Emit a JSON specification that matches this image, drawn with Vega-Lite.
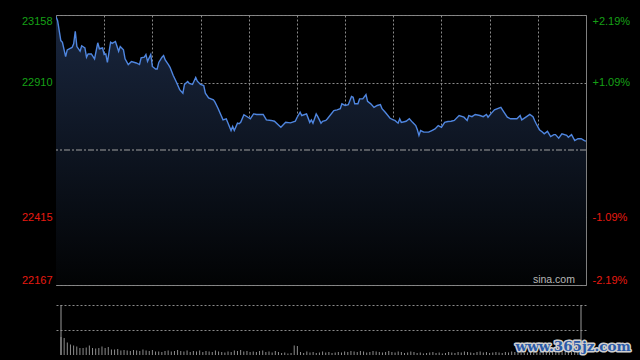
{
  "$schema": "https://vega.github.io/schema/vega-lite/v6.json",
  "background": "#000000",
  "padding": {"left": 20, "top": 14, "right": 9, "bottom": 6},
  "bounds": "flush",
  "spacing": 20,
  "config": {
    "view": {"stroke": "#7f7f7f", "strokeWidth": 1},
    "axis": {"labelFont": "Liberation Sans", "labelFontSize": 11, "tickSize": 0, "ticks": false, "title": null, "gridColor": "#8a8a8a", "gridDash": [2, 2], "gridWidth": 1, "domain": false, "zindex": 1}
  },
  "datasets": {
    "price": [
      {"m":0,"p":23152},{"m":1,"p":23137},{"m":3,"p":23064},{"m":4,"p":23058},{"m":6,"p":23005},{"m":7,"p":23030},{"m":10,"p":23039},{"m":11,"p":23052},{"m":12,"p":23098},{"m":13,"p":23042},{"m":15,"p":23025},{"m":16,"p":23045},{"m":18,"p":23037},{"m":19,"p":23003},{"m":20,"p":23015},{"m":22,"p":23015},{"m":24,"p":22997},{"m":26,"p":23056},{"m":27,"p":23034},{"m":29,"p":23037},{"m":30,"p":23013},{"m":31,"p":23015},{"m":32,"p":22984},{"m":34,"p":23058},{"m":35,"p":23054},{"m":37,"p":23061},{"m":39,"p":23025},{"m":40,"p":23042},{"m":42,"p":23030},{"m":43,"p":22997},{"m":45,"p":22976},{"m":47,"p":22987},{"m":50,"p":22982},{"m":52,"p":22976},{"m":53,"p":23001},{"m":55,"p":23003},{"m":56,"p":23013},{"m":57,"p":22988},{"m":59,"p":23013},{"m":60,"p":22969},{"m":62,"p":22960},{"m":63,"p":22960},{"m":64,"p":22984},{"m":66,"p":23003},{"m":67,"p":23009},{"m":68,"p":22993},{"m":70,"p":22976},{"m":71,"p":22966},{"m":73,"p":22936},{"m":75,"p":22911},{"m":77,"p":22884},{"m":79,"p":22871},{"m":80,"p":22903},{"m":82,"p":22914},{"m":83,"p":22907},{"m":85,"p":22903},{"m":87,"p":22929},{"m":88,"p":22915},{"m":90,"p":22903},{"m":92,"p":22899},{"m":93,"p":22871},{"m":95,"p":22854},{"m":98,"p":22847},{"m":99,"p":22838},{"m":101,"p":22814},{"m":104,"p":22773},{"m":106,"p":22777},{"m":109,"p":22734},{"m":110,"p":22749},{"m":111,"p":22734},{"m":113,"p":22761},{"m":114,"p":22759},{"m":115,"p":22764},{"m":117,"p":22792},{"m":120,"p":22781},{"m":121,"p":22777},{"m":123,"p":22795},{"m":125,"p":22793},{"m":129,"p":22793},{"m":131,"p":22773},{"m":134,"p":22771},{"m":136,"p":22768},{"m":140,"p":22746},{"m":143,"p":22764},{"m":146,"p":22762},{"m":149,"p":22768},{"m":150,"p":22781},{"m":152,"p":22801},{"m":153,"p":22789},{"m":156,"p":22795},{"m":158,"p":22764},{"m":159,"p":22773},{"m":160,"p":22761},{"m":162,"p":22795},{"m":163,"p":22785},{"m":165,"p":22761},{"m":166,"p":22768},{"m":168,"p":22771},{"m":169,"p":22777},{"m":173,"p":22807},{"m":175,"p":22810},{"m":177,"p":22814},{"m":178,"p":22832},{"m":180,"p":22826},{"m":182,"p":22829},{"m":184,"p":22859},{"m":185,"p":22856},{"m":186,"p":22832},{"m":188,"p":22832},{"m":189,"p":22850},{"m":191,"p":22850},{"m":193,"p":22866},{"m":194,"p":22841},{"m":196,"p":22832},{"m":198,"p":22819},{"m":200,"p":22826},{"m":202,"p":22829},{"m":203,"p":22814},{"m":205,"p":22801},{"m":208,"p":22779},{"m":210,"p":22773},{"m":211,"p":22771},{"m":213,"p":22761},{"m":214,"p":22777},{"m":215,"p":22764},{"m":218,"p":22768},{"m":220,"p":22777},{"m":222,"p":22764},{"m":224,"p":22752},{"m":225,"p":22737},{"m":226,"p":22716},{"m":227,"p":22734},{"m":229,"p":22728},{"m":232,"p":22728},{"m":234,"p":22734},{"m":236,"p":22740},{"m":238,"p":22752},{"m":240,"p":22746},{"m":242,"p":22764},{"m":244,"p":22767},{"m":246,"p":22768},{"m":248,"p":22771},{"m":251,"p":22789},{"m":254,"p":22783},{"m":256,"p":22771},{"m":257,"p":22789},{"m":259,"p":22785},{"m":261,"p":22793},{"m":264,"p":22789},{"m":266,"p":22785},{"m":268,"p":22793},{"m":269,"p":22783},{"m":271,"p":22797},{"m":273,"p":22810},{"m":277,"p":22819},{"m":279,"p":22801},{"m":281,"p":22783},{"m":283,"p":22777},{"m":287,"p":22777},{"m":289,"p":22789},{"m":290,"p":22773},{"m":293,"p":22785},{"m":295,"p":22793},{"m":297,"p":22785},{"m":298,"p":22771},{"m":299,"p":22759},{"m":301,"p":22737},{"m":303,"p":22728},{"m":304,"p":22722},{"m":306,"p":22731},{"m":308,"p":22712},{"m":310,"p":22719},{"m":311,"p":22719},{"m":313,"p":22706},{"m":315,"p":22722},{"m":318,"p":22716},{"m":319,"p":22709},{"m":321,"p":22719},{"m":323,"p":22697},{"m":325,"p":22704},{"m":327,"p":22704},{"m":329,"p":22697},{"m":330,"p":22695}
    ],
    "vol": [
      {"m":0,"v":36},{"m":2,"v":34},{"m":4,"v":25},{"m":6,"v":21},{"m":8,"v":19},{"m":10,"v":17},{"m":12,"v":14},{"m":14,"v":14},{"m":16,"v":15},{"m":18,"v":19},{"m":20,"v":14},{"m":22,"v":13},{"m":24,"v":14},{"m":26,"v":17},{"m":28,"v":14},{"m":30,"v":16},{"m":32,"v":11},{"m":34,"v":11},{"m":36,"v":12},{"m":38,"v":9},{"m":40,"v":10},{"m":42,"v":9},{"m":44,"v":8},{"m":46,"v":10},{"m":48,"v":9},{"m":50,"v":8},{"m":52,"v":11},{"m":54,"v":9},{"m":56,"v":8},{"m":58,"v":10},{"m":60,"v":7},{"m":62,"v":7},{"m":64,"v":6},{"m":66,"v":8},{"m":68,"v":9},{"m":70,"v":7},{"m":72,"v":8},{"m":74,"v":10},{"m":76,"v":8},{"m":78,"v":7},{"m":80,"v":9},{"m":82,"v":6},{"m":84,"v":8},{"m":86,"v":7},{"m":88,"v":9},{"m":90,"v":6},{"m":92,"v":8},{"m":94,"v":7},{"m":96,"v":6},{"m":98,"v":9},{"m":100,"v":7},{"m":102,"v":6},{"m":104,"v":5},{"m":106,"v":7},{"m":108,"v":6},{"m":110,"v":9},{"m":112,"v":8},{"m":114,"v":10},{"m":116,"v":7},{"m":118,"v":8},{"m":120,"v":6},{"m":122,"v":7},{"m":124,"v":6},{"m":126,"v":8},{"m":128,"v":9},{"m":130,"v":6},{"m":132,"v":7},{"m":134,"v":5},{"m":136,"v":8},{"m":138,"v":6},{"m":140,"v":4},{"m":142,"v":5},{"m":144,"v":3},{"m":146,"v":4},{"m":148,"v":19},{"m":150,"v":18},{"m":152,"v":6},{"m":154,"v":4},{"m":156,"v":7},{"m":158,"v":5},{"m":160,"v":6},{"m":162,"v":4},{"m":164,"v":5},{"m":166,"v":7},{"m":168,"v":5},{"m":170,"v":6},{"m":172,"v":4},{"m":174,"v":5},{"m":176,"v":6},{"m":178,"v":5},{"m":180,"v":7},{"m":182,"v":6},{"m":184,"v":8},{"m":186,"v":7},{"m":188,"v":6},{"m":190,"v":8},{"m":192,"v":7},{"m":194,"v":5},{"m":196,"v":6},{"m":198,"v":8},{"m":200,"v":7},{"m":202,"v":6},{"m":204,"v":5},{"m":206,"v":6},{"m":208,"v":8},{"m":210,"v":6},{"m":212,"v":5},{"m":214,"v":7},{"m":216,"v":6},{"m":218,"v":4},{"m":220,"v":5},{"m":222,"v":7},{"m":224,"v":6},{"m":226,"v":4},{"m":228,"v":5},{"m":230,"v":3},{"m":232,"v":4},{"m":234,"v":5},{"m":236,"v":6},{"m":238,"v":4},{"m":240,"v":5},{"m":242,"v":3},{"m":244,"v":4},{"m":246,"v":6},{"m":248,"v":5},{"m":250,"v":4},{"m":252,"v":6},{"m":254,"v":5},{"m":256,"v":7},{"m":258,"v":6},{"m":260,"v":5},{"m":262,"v":4},{"m":264,"v":6},{"m":266,"v":7},{"m":268,"v":5},{"m":270,"v":6},{"m":272,"v":4},{"m":274,"v":5},{"m":276,"v":6},{"m":278,"v":5},{"m":280,"v":4},{"m":282,"v":6},{"m":284,"v":5},{"m":286,"v":7},{"m":288,"v":6},{"m":290,"v":5},{"m":292,"v":6},{"m":294,"v":4},{"m":296,"v":5},{"m":298,"v":7},{"m":300,"v":6},{"m":302,"v":5},{"m":304,"v":6},{"m":306,"v":7},{"m":308,"v":5},{"m":310,"v":6},{"m":312,"v":7},{"m":314,"v":6},{"m":316,"v":5},{"m":318,"v":7},{"m":320,"v":6},{"m":322,"v":8},{"m":324,"v":7},{"m":326,"v":9},{"m":328,"v":8},{"m":330,"v":10}
    ]
  },
  "vconcat": [
    {
      "width": 530,
      "height": 270,
      "layer": [
        {
          "data": {"name": "price"},
          "mark": {"type": "area", "clip": true, "color": {"gradient": "linear", "x1": 0, "y1": 0, "x2": 0, "y2": 1, "stops": [{"offset": 0, "color": "#19263e"}, {"offset": 1, "color": "#020304"}]}},
          "encoding": {
            "x": {"field": "m", "type": "quantitative", "scale": {"domain": [0, 330], "nice": false, "zero": false}, "axis": {"values": [30, 60, 90, 120, 150, 180, 210, 240, 270, 300], "labels": false, "grid": true}},
            "y": {"field": "p", "type": "quantitative", "scale": {"domain": [22167, 23158], "nice": false, "zero": false}, "axis": {"orient": "left", "values": [22167, 22415, 22910, 23158], "format": "d", "labelFlush": true, "labelPadding": 4, "grid": true, "labelColor": {"condition": {"test": "datum.value > 22662.5", "value": "#16a016"}, "value": "#e81a10"}}},
            "y2": {"datum": 22167}
          }
        },
        {
          "data": {"values": [{}]},
          "mark": {"type": "rule", "color": "#a0a0a0", "strokeWidth": 1, "strokeDash": [6, 2, 2, 2]},
          "encoding": {"y": {"datum": 22662.5, "type": "quantitative", "axis": null}}
        },
        {
          "data": {"name": "price"},
          "mark": {"type": "line", "color": "#4f86e0", "strokeWidth": 1.4, "clip": true},
          "encoding": {
            "x": {"field": "m", "type": "quantitative"},
            "y": {"field": "p", "type": "quantitative", "axis": {"orient": "right", "values": [22167, 22415, 22910, 23158], "labelFlush": true, "labelPadding": 6, "grid": false, "labelExpr": "(datum.value > 22662.5 ? '+' : '-') + format(abs(datum.value / 22662.5 - 1) * 100, '.2f') + '%'", "labelColor": {"condition": {"test": "datum.value > 22662.5", "value": "#16a016"}, "value": "#e81a10"}}}
          }
        },
        {
          "data": {"values": [{}]},
          "mark": {"type": "text", "text": "sina.com", "font": "Liberation Sans", "fontSize": 10.5, "color": "#b8b8b8", "align": "center", "baseline": "middle"},
          "encoding": {"x": {"datum": 310, "type": "quantitative"}, "y": {"datum": 22184, "type": "quantitative", "axis": null}}
        }
      ],
      "resolve": {"axis": {"y": "independent"}}
    },
    {
      "width": 530,
      "height": 50,
      "view": {"stroke": null},
      "layer": [
        {
          "data": {"name": "vol"},
          "mark": {"type": "bar", "width": 1, "color": "#8c8c8c"},
          "encoding": {
            "x": {"field": "m", "type": "quantitative", "scale": {"domain": [0, 330], "nice": false, "zero": false}, "axis": null},
            "y": {"field": "v", "type": "quantitative", "scale": {"domain": [0, 100], "nice": false}, "axis": {"orient": "left", "values": [50, 100], "labels": false, "grid": true}}
          }
        },
        {
          "data": {"values": [{}]},
          "mark": {"type": "rule", "color": "#9a9a9a", "strokeWidth": 1},
          "encoding": {"x": {"datum": 0, "type": "quantitative"}}
        },
        {
          "data": {"values": [{}]},
          "mark": {"type": "rule", "color": "#9a9a9a", "strokeWidth": 1},
          "encoding": {"x": {"datum": 330, "type": "quantitative"}}
        },
        {
          "data": {"values": [{}]},
          "mark": {"type": "text", "text": "www.365jz.com", "font": "DejaVu Serif", "fontSize": 13.5, "fontWeight": "bold", "align": "center", "baseline": "middle", "fill": "#d0d0d0", "stroke": "#cfcfcf", "strokeWidth": 3, "strokeJoin": "round"},
          "encoding": {"x": {"datum": 325, "type": "quantitative"}, "y": {"datum": 16, "type": "quantitative"}}
        },
        {
          "data": {"values": [{}]},
          "mark": {"type": "text", "text": "www.365jz.com", "font": "DejaVu Serif", "fontSize": 13.5, "fontWeight": "bold", "align": "center", "baseline": "middle", "fill": "#2a5aa8"},
          "encoding": {"x": {"datum": 325, "type": "quantitative"}, "y": {"datum": 16, "type": "quantitative"}}
        }
      ]
    }
  ]
}
